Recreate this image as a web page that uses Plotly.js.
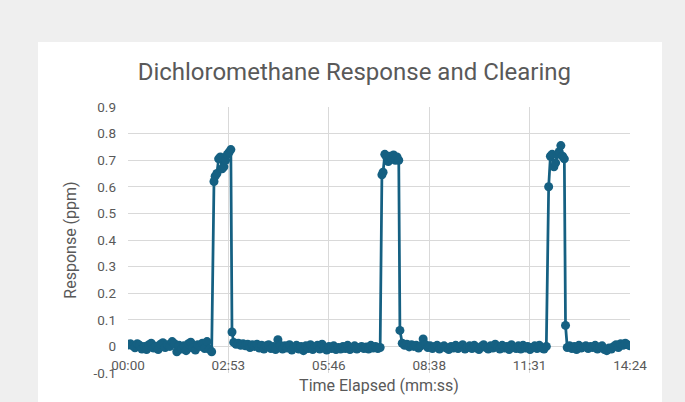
<!DOCTYPE html>
<html>
<head>
<meta charset="utf-8">
<script src="https://cdn.plot.ly/plotly-3.0.1.min.js"></script>
<style>
  html, body { margin: 0; padding: 0; background: #efefef; width: 685px; height: 402px; overflow: hidden; }
  #chart { position: absolute; left: 38px; top: 42px; width: 624px; height: 360px; background: #ffffff; }
</style>
</head>
<body>
<div id="chart"></div>
<script>
// Time elapsed in seconds
const timeSec = [
  0,4,8,12,16,20,24,28,32,36,40,44,48,52,56,60,64,68,72,76,80,84,88,92,96,100,104,108,112,116,120,124,128,132,136,140,144,
  148,150,153,156,159,162,165,168,171,174,177,179,
  182,186,190,194,198,202,206,210,214,218,222,226,230,234,238,242,246,250,254,258,262,266,270,274,278,282,286,290,294,298,302,306,310,314,318,322,326,330,334,338,342,346,350,354,358,362,366,370,374,378,382,386,390,394,398,402,406,410,414,418,422,426,430,434,
  437,439,442,445,448,451,454,457,460,463,466,468,
  472,476,480,484,488,492,496,500,504,508,512,516,520,524,528,532,536,540,544,548,552,556,560,564,568,572,576,580,584,588,592,596,600,604,608,612,616,620,624,628,632,636,640,644,648,652,656,660,664,668,672,676,680,684,688,692,696,700,704,708,712,716,720,
  724,727,730,733,736,739,742,745,748,751,753,
  756,760,764,768,772,776,780,784,788,792,796,800,804,808,812,816,820,824,828,832,836,840,844,848,852,856,860,864
];
// Response in ppm
const responsePpm = [
  0.005,0.010,0.002,-0.005,0.010,0.004,-0.010,0.000,-0.012,0.006,0.012,-0.006,0.001,-0.012,0.008,0.014,-0.004,0.006,0.000,0.018,0.010,-0.020,0.004,-0.010,0.002,-0.016,0.010,0.016,-0.006,-0.014,0.006,0.000,0.012,-0.008,0.018,-0.010,-0.020,
  0.620,0.640,0.650,0.705,0.712,0.668,0.675,0.700,0.722,0.730,0.740,0.054,
  0.015,0.008,0.012,0.004,0.010,0.002,0.008,-0.004,0.006,0.000,
  0.008,-0.006,0.004,-0.010,0.002,0.006,-0.008,0.000,-0.012,0.025,
  0.004,-0.010,0.002,-0.006,0.006,-0.014,-0.004,0.004,-0.010,0.000,
  -0.016,0.002,-0.008,0.006,-0.012,-0.002,0.004,-0.010,0.008,-0.006,
  -0.014,0.000,-0.008,0.002,-0.012,-0.004,-0.010,0.000,-0.008,0.004,
  -0.012,-0.006,0.002,-0.010,-0.004,0.000,-0.008,-0.002,-0.010,0.004,
  -0.006,0.000,-0.008,-0.004,
  0.645,0.655,0.722,0.712,0.695,0.715,0.705,0.720,0.700,0.712,0.700,0.060,
  0.012,0.004,0.008,-0.002,0.006,0.000,0.004,-0.006,0.002,0.028,
  0.006,-0.004,0.002,-0.008,0.000,0.004,-0.010,-0.002,0.002,-0.006,
  -0.012,0.000,-0.006,0.004,-0.008,-0.002,0.006,-0.010,-0.004,0.002,
  -0.008,0.004,-0.006,-0.012,0.000,0.006,-0.004,-0.010,0.002,-0.006,
  0.008,-0.002,-0.010,0.004,-0.006,0.000,-0.012,0.006,-0.004,-0.008,
  0.002,-0.010,0.004,-0.006,0.000,-0.012,-0.004,0.002,-0.008,0.004,
  -0.006,-0.010,0.000,
  0.600,0.715,0.722,0.675,0.690,0.722,0.732,0.755,0.715,0.705,0.079,
  -0.004,0.002,-0.008,0.000,-0.012,0.004,-0.006,-0.002,0.002,-0.008,
  0.000,-0.004,0.004,-0.010,-0.002,0.002,-0.012,-0.016,-0.006,-0.010,
  0.000,0.006,-0.004,0.010,0.004,0.012,0.006,0.002
];
// Axis ticks
const xTickVals = [0, 172.8, 345.6, 518.4, 691.2, 864];
const xTickText = ["00:00", "02:53", "05:46", "08:38", "11:31", "14:24"];
const yTickVals = [-0.1, 0, 0.1, 0.2, 0.3, 0.4, 0.5, 0.6, 0.7, 0.8, 0.9];
const yTickText = ["-0.1", "0", "0.1", "0.2", "0.3", "0.4", "0.5", "0.6", "0.7", "0.8", "0.9"];

const lineColor = "#156082";
const textColor = "#595959";
const fontFam = "Roboto, 'Open Sans', sans-serif";

const trace = {
  x: timeSec,
  y: responsePpm,
  type: "scatter",
  mode: "lines+markers",
  line: { color: lineColor, width: 2.75 },
  marker: { color: lineColor, size: 9, symbol: "circle" },
  hoverinfo: "skip"
};

const layout = {
  width: 624,
  height: 360,
  paper_bgcolor: "#ffffff",
  plot_bgcolor: "#ffffff",
  margin: { l: 90, r: 32, t: 65, b: 29 },
  showlegend: false,
  title: {
    text: "Dichloromethane Response and Clearing",
    font: { family: fontFam, size: 24, color: textColor },
    xref: "container", x: 0.507, xanchor: "center",
    yref: "container", y: 0.917, yanchor: "middle"
  },
  xaxis: {
    range: [0, 864],
    tickmode: "array",
    tickvals: xTickVals,
    ticktext: xTickText,
    showgrid: true,
    gridcolor: "#d9d9d9",
    gridwidth: 1,
    zeroline: false,
    showline: false,
    ticks: "",
    anchor: "free",
    position: 0.1,
    ticklabelstandoff: 9,
    tickfont: { family: fontFam, size: 13.5, color: textColor },
    title: {
      text: "Time Elapsed (mm:ss)",
      font: { family: fontFam, size: 16, color: textColor },
      standoff: 7
    },
    fixedrange: true
  },
  yaxis: {
    range: [-0.1, 0.9],
    domain: [0, 1],
    tickmode: "array",
    tickvals: yTickVals,
    ticktext: yTickText,
    showgrid: true,
    gridcolor: "#d9d9d9",
    gridwidth: 1,
    zeroline: false,
    showline: false,
    ticks: "",
    ticklabelstandoff: 11,
    tickfont: { family: fontFam, size: 13.5, color: textColor },
    title: {
      text: "Response (ppm)",
      font: { family: fontFam, size: 16, color: textColor },
      standoff: 12
    },
    fixedrange: true
  }
};

Plotly.newPlot("chart", [trace], layout, { displayModeBar: false, staticPlot: true });
</script>
</body>
</html>
